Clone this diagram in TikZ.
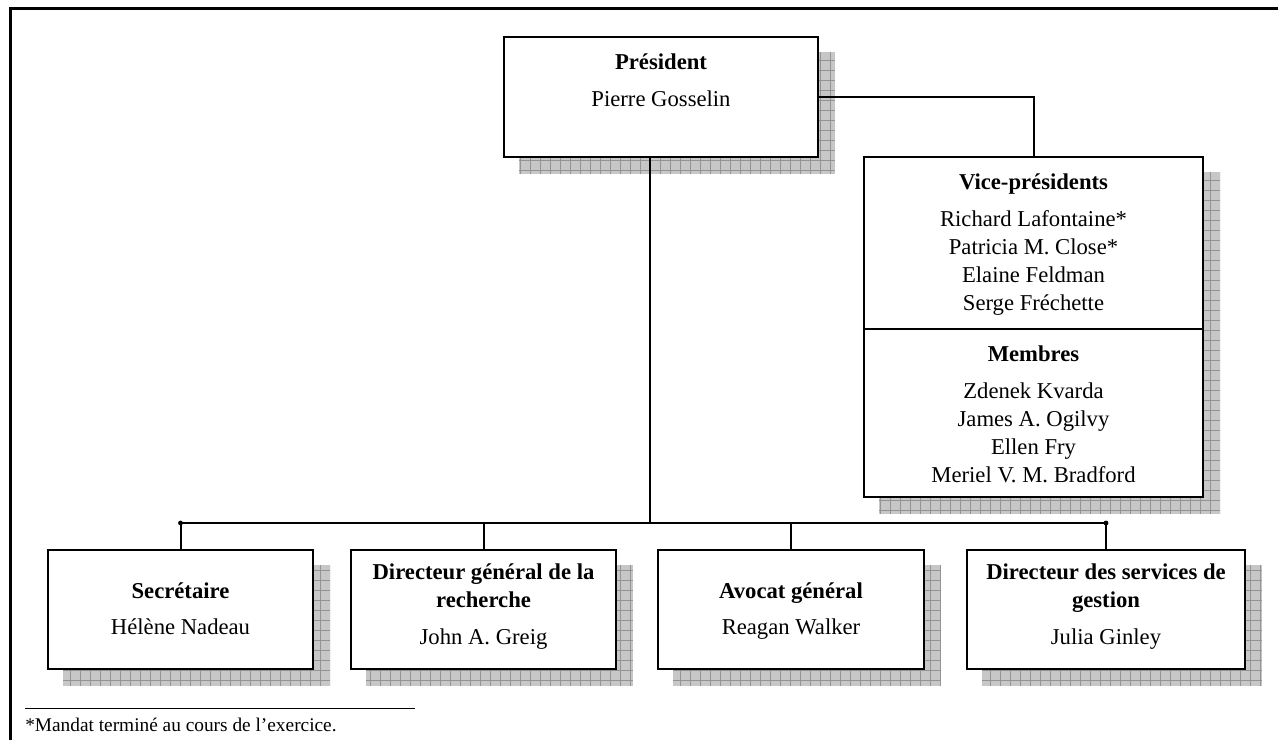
\documentclass[tikz,border=0pt]{standalone}
\usepackage{fontspec}
\setmainfont{Liberation Serif}
\usetikzlibrary{positioning}
\pgfdeclarelayer{background}
\pgfsetlayers{background,main}
\tikzset{
  box/.style={draw, line width=1.5pt, fill=white, inner sep=0pt},
  txt/.style={anchor=base, inner sep=0pt, font=\fontsize{17}{20}\selectfont},
  ttl/.style={txt, font=\fontsize{17}{20}\selectfont\bfseries},
  link/.style={line width=1.5pt},
}
% grey hatched shadow behind a box
\newcommand\shadowof[1]{%
  \begin{scope}
    \clip ([shift={(16,16)}]#1.south west) rectangle ([shift={(16,16)}]#1.north east);
    \fill[black!22] ([shift={(16,16)}]#1.south west) rectangle ([shift={(16,16)}]#1.north east);
    \draw[black!42, line width=0.4pt, step=7.5pt] ([shift={(16,16)}]#1.south west) grid ([shift={(16,16)}]#1.north east);
  \end{scope}}
\begin{document}
\begin{tikzpicture}
[x=0.75pt, y=-0.75pt]
  \useasboundingbox (0,0) rectangle (1278,740);
  \draw[line width=2.25pt] (10,740) -- (10,8) -- (1278,8);
  % boxes
  \node[box, minimum width=235.5pt, minimum height=90pt] (pres) at (661,97) {};
  \node[box, minimum width=254.25pt, minimum height=255pt] (vp) at (1033.5,327) {};
  \node[box, minimum width=198.75pt, minimum height=89.25pt] (sec) at (180.5,609.5) {};
  \node[box, minimum width=198.75pt, minimum height=89.25pt] (dgr) at (483.5,609.5) {};
  \node[box, minimum width=199.5pt, minimum height=89.25pt] (avo) at (791,609.5) {};
  \node[box, minimum width=208.5pt, minimum height=89.25pt] (dsg) at (1106,609.5) {};
  \begin{pgfonlayer}{background}
    \foreach \b in {pres,vp,sec,dgr,avo,dsg} \shadowof{\b};
  \end{pgfonlayer}
  \coordinate (vpdiv) at (1033.5,329);
  \draw[link] (vp.west |- vpdiv) -- (vp.east |- vpdiv);
  % connectors
  \coordinate (bus) at (650,523);
  \draw[link] (pres.east) -| (vp.north);
  \draw[link] (pres.south -| bus) -- (bus);
  \draw[link] (sec.north |- bus) -- (dsg.north |- bus);
  \foreach \b in {sec,dgr,avo,dsg}
  \draw[link] (\b.north) -- (\b.north |- bus);
  \fill (sec.north |- bus) circle (1.8pt);
  \fill (dsg.north |- bus) circle (1.8pt);
  % texts
  \node[ttl] (presT) at (661,69) {Président};
  \node[txt] (presN) at (661,106) {Pierre Gosselin};
  \node[ttl] (vpT) at (1033.5,189) {Vice-présidents};
  \foreach \n [count=\i] in {Richard Lafontaine*, Patricia M. Close*, Elaine Feldman, Serge Fréchette}
  \node[txt] (vp\i) at (1033.5,{198+28*\i}) {\n};
  \node[ttl] (memT) at (1033.5,361) {Membres};
  \foreach \n [count=\i] in {Zdenek Kvarda, James A. Ogilvy, Ellen Fry, Meriel V. M. Bradford}
  \node[txt] (mem\i) at (1033.5,{370+28*\i}) {\n};
  \node[ttl] (secT) at (180.5,598) {Secrétaire};
  \node[txt] (secN) at (180.5,634) {Hélène Nadeau};
  \node[ttl] (dgrT1) at (483.5,579) {Directeur général de la};
  \node[ttl] (dgrT2) at (483.5,607) {recherche};
  \node[txt] (dgrN) at (483.5,644) {John A. Greig};
  \node[ttl] (avoT) at (791,598) {Avocat général};
  \node[txt] (avoN) at (791,634) {Reagan Walker};
  \node[ttl] (dsgT1) at (1106,579) {Directeur des services de};
  \node[ttl] (dsgT2) at (1106,607) {gestion};
  \node[txt] (dsgN) at (1106,644) {Julia Ginley};
  % footnote
  \coordinate (fnA) at (25,708);
  \coordinate (fnB) at (415,708);
  \draw[line width=0.75pt] (fnA) -- (fnB);
  \node[txt, anchor=base west, font=\fontsize{14.5}{17}\selectfont] (fnote) at (25,731) {*Mandat terminé au cours de l’exercice.};
\end{tikzpicture}
\end{document}
